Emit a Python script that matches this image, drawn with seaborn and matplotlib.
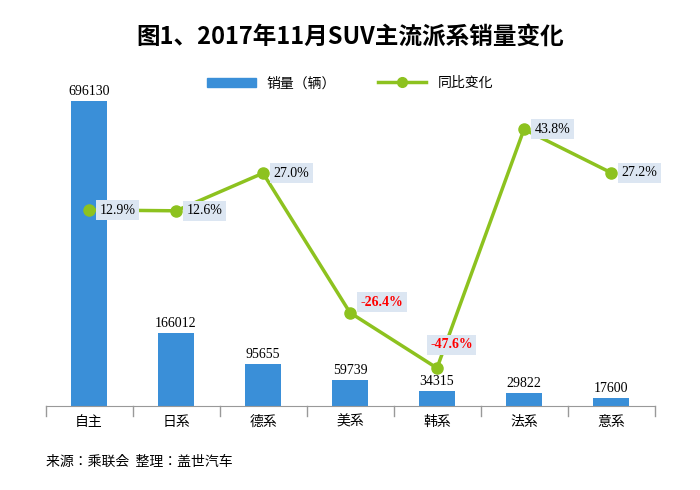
import matplotlib
matplotlib.use("Agg")
import matplotlib.pyplot as plt
from matplotlib import font_manager as fm
import seaborn as sns
import pandas as pd

categories = ["自主", "日系", "德系", "美系", "韩系", "法系", "意系"]
sales = [696130, 166012, 95655, 59739, 34315, 29822, 17600]
change = [12.9, 12.6, 27.0, -26.4, -47.6, 43.8, 27.2]

names = sorted({f.name for f in fm.fontManager.ttflist if "CJK" in f.name})
pref = ([n for n in names if "Sans" in n and "SC" in n] or [n for n in names if "Sans" in n] or names)
fname = pref[0] if pref else "DejaVu Sans"
plt.rcParams["font.family"] = "sans-serif"
plt.rcParams["font.sans-serif"] = [fname, "DejaVu Sans"]

fig = plt.figure(figsize=(7, 4.9), dpi=100)
ax = fig.add_axes([0.065, 0.171, 0.87, 0.635])
df = pd.DataFrame({"cat": categories, "sales": sales, "change": change})
sns.barplot(data=df, x="cat", y="sales", color="#3a8fd8", width=0.42, ax=ax, saturation=1)
ax.set_ylim(0, 710000)
ax.set_xlim(-0.5, 6.5)
for i, v in enumerate(sales):
    ax.text(i, v + 8000, str(v), ha="center", va="bottom", fontsize=10, family="Liberation Serif")
ax2 = ax.twinx()
ax2.plot(range(7), change, color="#8dc21f", lw=2.5, marker="o", ms=8, zorder=3)
ax2.set_ylim(-62.2, 56.9)
offs = {3: (0.12, 4), 4: (-0.08, 9)}
for i, v in enumerate(change):
    neg = v < 0
    dx, dy = offs.get(i, (0.12, 0))
    ax2.text(i + dx, v + dy, f"{v:.1f}%", ha="left", va="center", fontsize=10,
             family="Liberation Serif", color="red" if neg else "black",
             fontweight="bold" if neg else "normal",
             bbox=dict(boxstyle="square,pad=0.25", fc="#dce6f2", ec="none"))
for a in (ax, ax2):
    a.set_yticks([])
    a.set_xlabel(""); a.set_ylabel("")
    for s in ("top", "right", "left"):
        a.spines[s].set_visible(False)
ax.spines["bottom"].set_color("#999999")
ax2.spines["bottom"].set_visible(False)
ax.tick_params(axis="x", length=0, labelsize=10, pad=6)
for i in range(8):
    ax.axvline(i - 0.5, ymin=-0.03, ymax=0, color="#999999", lw=1, clip_on=False)
fig.text(0.5, 0.91, "图1、2017年11月SUV主流派系销量变化", ha="center", fontsize=17, fontweight="bold")
from matplotlib.patches import Patch
from matplotlib.lines import Line2D
fig.legend([Patch(color="#3a8fd8"), Line2D([], [], color="#8dc21f", lw=2.5, marker="o", ms=7)],
           ["销量（辆）", "同比变化"], loc="center", bbox_to_anchor=(0.5, 0.83), ncol=2,
           frameon=False, fontsize=10, handlelength=3.5, columnspacing=3)
fig.text(0.065, 0.05, "来源：乘联会  整理：盖世汽车", fontsize=10, style="italic")
fig.savefig("out.png", dpi=100)
